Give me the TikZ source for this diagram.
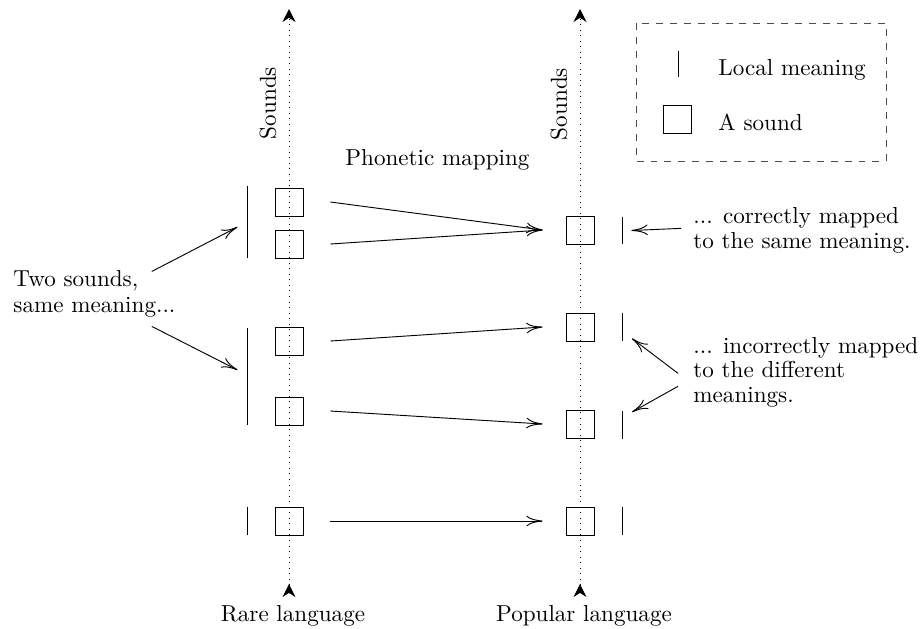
\documentclass[tikz,border=0pt]{standalone}
\usetikzlibrary{arrows.meta,calc}
\begin{document}
\begin{tikzpicture}[x=0.4327pt,y=-0.4327pt,
  sound/.style={draw, minimum size=12.1pt, inner sep=0pt},
  meaningbar/.style={minimum width=0pt, inner sep=0pt, minimum height=#1*0.4327pt,
    append after command={\pgfextra{\draw (\tikzlastnode.north) -- (\tikzlastnode.south);}}},
  axisline/.style={dotted, {Stealth[reversed,length=5.6pt,width=5.6pt,inset=1.8pt]}-{Stealth[length=5.6pt,width=5.6pt,inset=1.8pt]}},
  maparrow/.style={-{To[length=7pt,width=4.6pt]}},
  txt/.style={inner sep=0pt, font=\fontsize{10}{10.4}\selectfont, align=left},
  legendbox/.style={dashed, black!70},
]
\useasboundingbox (0,0) rectangle (920,628);

% axes
\coordinate (Lb) at (289,597);
\coordinate (Lt) at (289,9);
\coordinate (Rb) at (580,597);
\coordinate (Rt) at (580,9);
\draw[axisline] (Lb) -- (Lt);
\draw[axisline] (Rb) -- (Rt);
\node[txt, anchor=base] (rare) at (293,621) {Rare language};
\node[txt, anchor=base] (pop) at (584,621) {Popular language};
\node[txt, rotate=90] (sndL) at (268,103) {Sounds};
\node[txt, rotate=90] (sndR) at (559,104) {Sounds};
\node[txt, anchor=base west] (phon) at (345,165) {Phonetic mapping};

% sounds
\node[sound] (L1) at (289,202) {};
\node[sound] (L2) at (289,244) {};
\node[sound] (L3) at (289,341) {};
\node[sound] (L4) at (289,411) {};
\node[sound] (L5) at (289,521) {};
\node[sound] (R1) at (580,230) {};
\node[sound] (R2) at (580,327) {};
\node[sound] (R3) at (580,424) {};
\node[sound] (R4) at (580,521) {};

% meanings
\node[meaningbar=72] (M1) at (247,222) {};
\node[meaningbar=97] (M2) at (247,376.5) {};
\node[meaningbar=28] (M3) at (247,521) {};
\node[meaningbar=27] (N1) at (622,230.5) {};
\node[meaningbar=28] (N2) at (622,327) {};
\node[meaningbar=27] (N3) at (622,425) {};
\node[meaningbar=28] (N4) at (622,521) {};

% mappings
\draw[maparrow] ($(L1.east)+(27,0)$) -- ($(R1.west)+(-23,0)$);
\draw[maparrow] ($(L2.east)+(27,0)$) -- ($(R1.west)+(-23,0)$);
\draw[maparrow] ($(L3.east)+(27,0)$) -- ($(R2.west)+(-23,0)$);
\draw[maparrow] ($(L4.east)+(27,0)$) -- ($(R3.west)+(-23,0)$);
\draw[maparrow] ($(L5.east)+(27,0)$) -- ($(R4.west)+(-23,0)$);

% annotations
\node[txt, anchor=base west, font=\fontsize{10}{11.2}\selectfont] (two) at (13,312) {Two sounds,\\same meaning...};
\node[txt, anchor=base west] (corr) at (693,248) {... correctly mapped\\to the same meaning.};
\node[txt, anchor=base west] (incorr) at (693,402) {... incorrectly mapped\\to the different\\meanings.};

\draw[maparrow] ($(two.east)+(-24,-22)$) -- ($(M1.west)+(-9,5)$);
\draw[maparrow] ($(two.east)+(-24,33)$) -- ($(M2.west)+(-9,-6.5)$);
\draw[maparrow] ($(corr.west)+(-12,-2)$) -- ($(N1.east)+(9,0)$);
\draw[maparrow] ($(incorr.west)+(-15,1)$) -- ($(N2.south)+(10,-3)$);
\draw[maparrow] ($(incorr.west)+(-15,14)$) -- ($(N3.north)+(10,1)$);

% legend
\draw[legendbox] (636,23) rectangle (886,161);
\node[meaningbar=26] (legbar) at (678,64) {};
\node[sound] (legsnd) at (677,119.5) {};
\node[txt, anchor=base west] (legmean) at (718,75) {Local meaning};
\node[txt, anchor=base west] (legsound) at (718,130) {A sound};
\end{tikzpicture}
\end{document}
